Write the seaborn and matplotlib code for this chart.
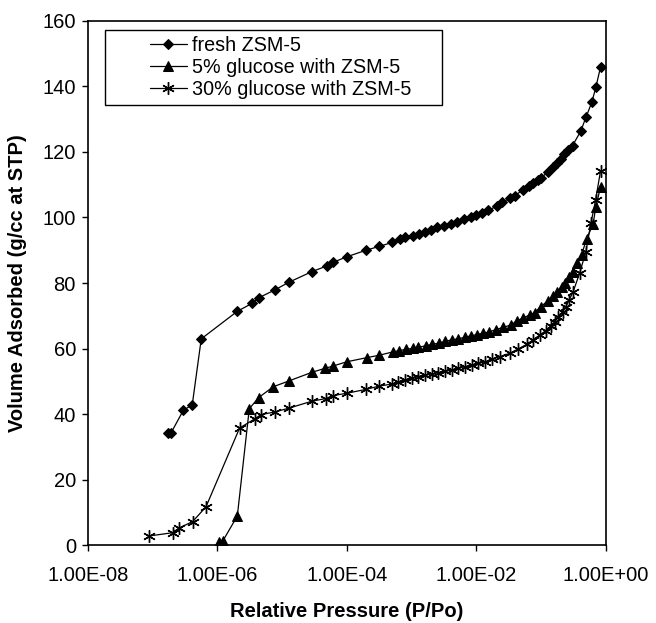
import numpy as np
import pandas as pd
import matplotlib
matplotlib.use("Agg")
import matplotlib.pyplot as plt
from matplotlib.patches import Rectangle
import seaborn as sns

sns.set_style("ticks")
plt.rcParams['font.family'] = ['Liberation Sans', 'DejaVu Sans']

# ---- data ----
fresh_x = [1.73e-7, 1.93e-7, 2.99e-7, 4.11e-7, 5.66e-7, 2.04e-6, 3.43e-6, 4.36e-6, 7.69e-6,
           1.29e-5, 2.89e-5, 4.88e-5, 6.10e-5, 9.93e-5, 1.97e-4, 3.16e-4, 5.04e-4, 6.61e-4,
           7.89e-4, 1.04e-3, 1.31e-3, 1.60e-3, 1.96e-3, 2.48e-3, 3.15e-3, 4.00e-3, 4.94e-3,
           6.41e-3, 8.13e-3, 9.82e-3, 1.23e-2, 1.52e-2, 2.05e-2, 2.50e-2, 3.29e-2, 3.93e-2,
           5.16e-2, 6.53e-2, 7.53e-2, 8.99e-2, 0.101, 0.128, 0.153, 0.173, 0.199, 0.224,
           0.261, 0.305, 0.410, 0.490, 0.605, 0.698, 0.826]
fresh_y = [34.3, 34.3, 41.2, 42.9, 63.0, 71.4, 73.8, 75.5, 77.9,
           80.3, 83.5, 85.2, 86.3, 88.0, 90.0, 91.2, 92.4, 93.4,
           94.0, 94.4, 95.1, 95.7, 96.2, 97.0, 97.4, 98.0, 98.6,
           99.5, 100.2, 100.8, 101.5, 102.2, 103.4, 104.6, 105.9, 106.6,
           108.4, 109.7, 110.4, 111.4, 112.1, 114.0, 115.5, 116.5, 117.7, 119.3,
           120.6, 121.9, 126.4, 130.5, 135.1, 139.7, 145.9]

g5_x = [1.06e-6, 1.22e-6, 2.04e-6, 3.12e-6, 4.36e-6, 7.31e-6, 1.29e-5, 2.89e-5, 4.59e-5,
        6.10e-5, 9.93e-5, 2.07e-4, 3.16e-4, 5.09e-4, 6.44e-4, 8.17e-4, 1.04e-3, 1.26e-3,
        1.66e-3, 2.04e-3, 2.64e-3, 3.27e-3, 4.14e-3, 5.24e-3, 6.64e-3, 8.22e-3, 1.02e-2,
        1.27e-2, 1.58e-2, 1.98e-2, 2.59e-2, 3.37e-2, 4.17e-2, 5.16e-2, 6.70e-2, 8.00e-2,
        9.79e-2, 0.128, 0.153, 0.177, 0.207, 0.232, 0.270, 0.305, 0.355, 0.420, 0.501,
        0.634, 0.698, 0.826]
g5_y = [1.0, 1.4, 9.0, 41.7, 45.1, 48.4, 50.2, 52.8, 54.0,
        54.7, 56.0, 57.3, 58.0, 59.0, 59.4, 59.8, 60.1, 60.4,
        60.9, 61.3, 61.7, 62.2, 62.7, 63.0, 63.5, 63.9, 64.3,
        64.7, 65.1, 65.8, 66.5, 67.2, 68.4, 69.3, 70.3, 71.0,
        72.8, 74.6, 76.1, 77.4, 78.9, 80.1, 81.8, 83.5, 86.0, 88.6, 93.4,
        98.0, 103.3, 109.4]

g30_x = [8.87e-8, 2.05e-7, 2.56e-7, 4.17e-7, 6.70e-7, 2.21e-6, 3.85e-6, 4.72e-6, 7.69e-6,
         1.29e-5, 2.89e-5, 4.76e-5, 6.04e-5, 9.93e-5, 1.97e-4, 3.16e-4, 4.91e-4, 6.21e-4,
         7.89e-4, 1.00e-3, 1.26e-3, 1.60e-3, 2.04e-3, 2.58e-3, 3.27e-3, 4.14e-3, 5.24e-3,
         6.64e-3, 8.43e-3, 1.07e-2, 1.35e-2, 1.72e-2, 2.31e-2, 3.29e-2, 4.42e-2, 5.96e-2,
         7.53e-2, 9.55e-2, 0.118, 0.140, 0.163, 0.183, 0.214, 0.240, 0.270, 0.312,
         0.395, 0.490, 0.585, 0.692, 0.826]
g30_y = [2.9, 3.9, 5.3, 7.3, 11.8, 35.8, 38.7, 39.9, 40.7,
         41.9, 44.0, 44.8, 45.7, 46.4, 47.6, 48.6, 49.2, 49.8,
         50.5, 51.0, 51.5, 51.9, 52.3, 52.7, 53.1, 53.5, 54.0,
         54.5, 55.0, 55.5, 56.0, 56.8, 57.6, 58.6, 59.9, 61.3,
         62.7, 64.2, 65.5, 66.9, 68.2, 69.8, 71.3, 72.8, 74.8, 77.4,
         83.2, 89.6, 98.2, 105.3, 114.3]

series_names = ["fresh ZSM-5", "5% glucose with ZSM-5", "30% glucose with ZSM-5"]
x_ticks = [1e-8, 1e-6, 1e-4, 1e-2, 1e0]
x_tick_labels = ["1.00E-08", "1.00E-06", "1.00E-04", "1.00E-02", "1.00E+00"]
y_ticks = [0, 20, 40, 60, 80, 100, 120, 140, 160]

# ---- figure ----
fig = plt.figure(figsize=(6.56, 6.23), dpi=100)
ax = fig.add_axes([0.1337, 0.1244, 0.79, 0.8424])

styles = [
    dict(marker="D", markersize=5.5),
    dict(marker="^", markersize=7.5),
    dict(marker=(6, 2, 0), markersize=9, markeredgewidth=1.0),
]
for name, xs, ys, st in zip(series_names, [fresh_x, g5_x, g30_x], [fresh_y, g5_y, g30_y], styles):
    df = pd.DataFrame({"x": xs, "y": ys})
    sns.lineplot(data=df, x="x", y="y", ax=ax, color="black", linewidth=0.9,
                 estimator=None, sort=False, label=name,
                 markerfacecolor="black", markeredgecolor="black", **st)

ax.set_xscale("log")
ax.set_xlim(1e-8, 1)
ax.set_ylim(0, 160)
ax.set_xticks(x_ticks)
ax.set_xticklabels(x_tick_labels)
ax.xaxis.set_minor_locator(matplotlib.ticker.NullLocator())
ax.set_yticks(y_ticks)
ax.tick_params(axis="both", direction="out", length=4.5, width=1, color="black",
               labelsize=14.5, labelcolor="black")
ax.tick_params(axis="x", pad=10)
ax.tick_params(axis="y", pad=4)

for s in ax.spines.values():
    s.set_visible(True)
    s.set_color("black")
    s.set_linewidth(1.2)

ax.set_xlabel("Relative Pressure (P/Po)", fontsize=14.5, fontweight="bold", color="black")
ax.set_ylabel("Volume Adsorbed (g/cc at STP)", fontsize=14.5, fontweight="bold", color="black")
ax.xaxis.set_label_coords(0.5, -0.107)
ax.yaxis.set_label_coords(-0.117, 0.5)

leg = ax.legend(loc="upper left", bbox_to_anchor=(150 / 656, 1 - 36 / 623),
                bbox_transform=fig.transFigure, frameon=False, fontsize=14.2,
                handlelength=1.86, handletextpad=0.25, borderpad=0, borderaxespad=0,
                labelspacing=0.14)
for t in leg.get_texts():
    t.set_color("black")

fig.add_artist(Rectangle((105 / 656, 1 - 104.5 / 623), (442 - 105) / 656, (104.5 - 30) / 623,
                         transform=fig.transFigure, fill=False, linewidth=1.0, edgecolor="black"))

fig.savefig("out.png", dpi=100)
